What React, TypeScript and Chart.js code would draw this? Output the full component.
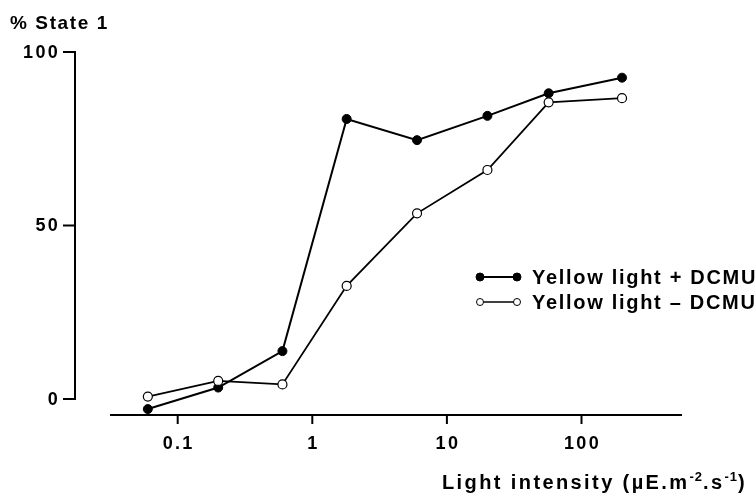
import React, { useEffect, useRef } from "react";
import { Chart, registerables } from "chart.js";

Chart.register(...registerables);

const intensities = [0.06, 0.2, 0.6, 1.8, 6, 20, 57, 200];
const withDCMU = [-2.9, 3.3, 13.8, 80.7, 74.6, 81.6, 88.1, 92.6];
const withoutDCMU = [0.7, 5.2, 4.2, 32.6, 53.5, 66.0, 85.5, 86.7];
const seriesNames = ["Yellow light + DCMU", "Yellow light \u2013 DCMU"];
const xTicks = [0.1, 1, 10, 100];
const xTickLabels = ["0.1", "1", "10", "100"];
const yTicks = [0, 50, 100];
const yTitle = "% State 1";
const xTitleParts = ["Light intensity (\u00b5E.m", "-2", ".s", "-1", ")"];

const FONT = '"Liberation Sans", Arial, sans-serif';

const axesPlugin = {
  id: "customAxes",
  afterDraw(chart: any) {
    const ctx = chart.ctx as CanvasRenderingContext2D;
    const xs = chart.scales.x;
    const ys = chart.scales.y;
    const area = chart.chartArea;
    ctx.save();
    ctx.strokeStyle = "#000";
    ctx.fillStyle = "#000";
    ctx.lineWidth = 2;
    ctx.lineCap = "butt";

    // Y axis
    const yAxisX = area.left;
    ctx.beginPath();
    ctx.moveTo(yAxisX, ys.getPixelForValue(yTicks[yTicks.length - 1]) - 1);
    ctx.lineTo(yAxisX, ys.getPixelForValue(yTicks[0]) + 1);
    ctx.stroke();
    ctx.font = `bold 18px ${FONT}`;
    (ctx as any).letterSpacing = "2.3px";
    ctx.textAlign = "right";
    ctx.textBaseline = "middle";
    yTicks.forEach((v) => {
      const py = ys.getPixelForValue(v);
      ctx.beginPath();
      ctx.moveTo(yAxisX - 12, py);
      ctx.lineTo(yAxisX + 1, py);
      ctx.stroke();
      ctx.fillText(String(v), yAxisX - 15, py + 1);
    });

    // X axis
    const xAxisY = area.bottom;
    ctx.beginPath();
    ctx.moveTo(area.left + 35, xAxisY);
    ctx.lineTo(area.right, xAxisY);
    ctx.stroke();
    ctx.textAlign = "center";
    ctx.textBaseline = "middle";
    xTicks.forEach((v, i) => {
      const px = xs.getPixelForValue(v);
      ctx.beginPath();
      ctx.moveTo(px, xAxisY);
      ctx.lineTo(px, xAxisY + 9);
      ctx.stroke();
      ctx.fillText(xTickLabels[i], px + 1, xAxisY + 29);
    });

    // Y title
    ctx.textAlign = "left";
    ctx.textBaseline = "alphabetic";
    ctx.font = `bold 19px ${FONT}`;
    (ctx as any).letterSpacing = "1.6px";
    ctx.fillText(yTitle, 10, 29);

    // X title with superscripts
    let tx = 442;
    const base = 489;
    xTitleParts.forEach((part, i) => {
      const sup = i === 1 || i === 3;
      ctx.font = sup ? `bold 13px ${FONT}` : `bold 20px ${FONT}`;
      (ctx as any).letterSpacing = sup ? "1px" : "2.4px";
      ctx.fillText(part, tx, sup ? base - 8 : base);
      tx += ctx.measureText(part).width;
    });

    // Legend
    const rows = [
      { y: 277, filled: true, label: seriesNames[0] },
      { y: 302, filled: false, label: seriesNames[1] },
    ];
    rows.forEach((r) => {
      ctx.lineWidth = r.filled ? 2 : 1.5;
      ctx.beginPath();
      ctx.moveTo(480, r.y);
      ctx.lineTo(517, r.y);
      ctx.stroke();
      [480, 517].forEach((cx) => {
        ctx.beginPath();
        ctx.arc(cx, r.y, r.filled ? 4 : 3.5, 0, Math.PI * 2);
        ctx.fillStyle = r.filled ? "#000" : "#fff";
        ctx.fill();
        ctx.lineWidth = 1;
        ctx.stroke();
      });
      ctx.fillStyle = "#000";
      ctx.font = `bold 20px ${FONT}`;
      (ctx as any).letterSpacing = "1.7px";
      ctx.textBaseline = "middle";
      ctx.fillText(r.label, 532, r.y + 1);
    });
    ctx.restore();
  },
};

export default function App() {
  const ref = useRef<HTMLCanvasElement | null>(null);
  useEffect(() => {
    if (!ref.current) return;
    const chart = new Chart(ref.current, {
      type: "line",
      data: {
        datasets: [
          {
            label: seriesNames[1],
            data: intensities.map((x, i) => ({ x, y: withoutDCMU[i] })),
            borderColor: "#000",
            borderWidth: 1.8,
            pointRadius: 4.5,
            pointBackgroundColor: "#fff",
            pointBorderColor: "#000",
            pointBorderWidth: 1.2,
            tension: 0,
          },
          {
            label: seriesNames[0],
            data: intensities.map((x, i) => ({ x, y: withDCMU[i] })),
            borderColor: "#000",
            borderWidth: 2,
            pointRadius: 4.5,
            pointBackgroundColor: "#000",
            pointBorderColor: "#000",
            pointBorderWidth: 1,
            tension: 0,
          },
        ],
      },
      options: {
        animation: false,
        responsive: false,
        maintainAspectRatio: false,
        events: [],
        layout: { padding: { left: 75, right: 74, top: 52, bottom: 80 } },
        plugins: { legend: { display: false }, tooltip: { enabled: false }, title: { display: false } },
        scales: {
          x: { type: "logarithmic", min: 0.01726, max: 558, display: false },
          y: { type: "linear", min: -4.61, max: 100, display: false },
        },
      },
      plugins: [axesPlugin],
    });
    return () => chart.destroy();
  }, []);
  return (
    <div style={{ position: "fixed", left: 0, top: 0, width: 756, height: 495, background: "#fff" }}>
      <canvas ref={ref} width={756} height={495} style={{ width: 756, height: 495 }} />
    </div>
  );
}
